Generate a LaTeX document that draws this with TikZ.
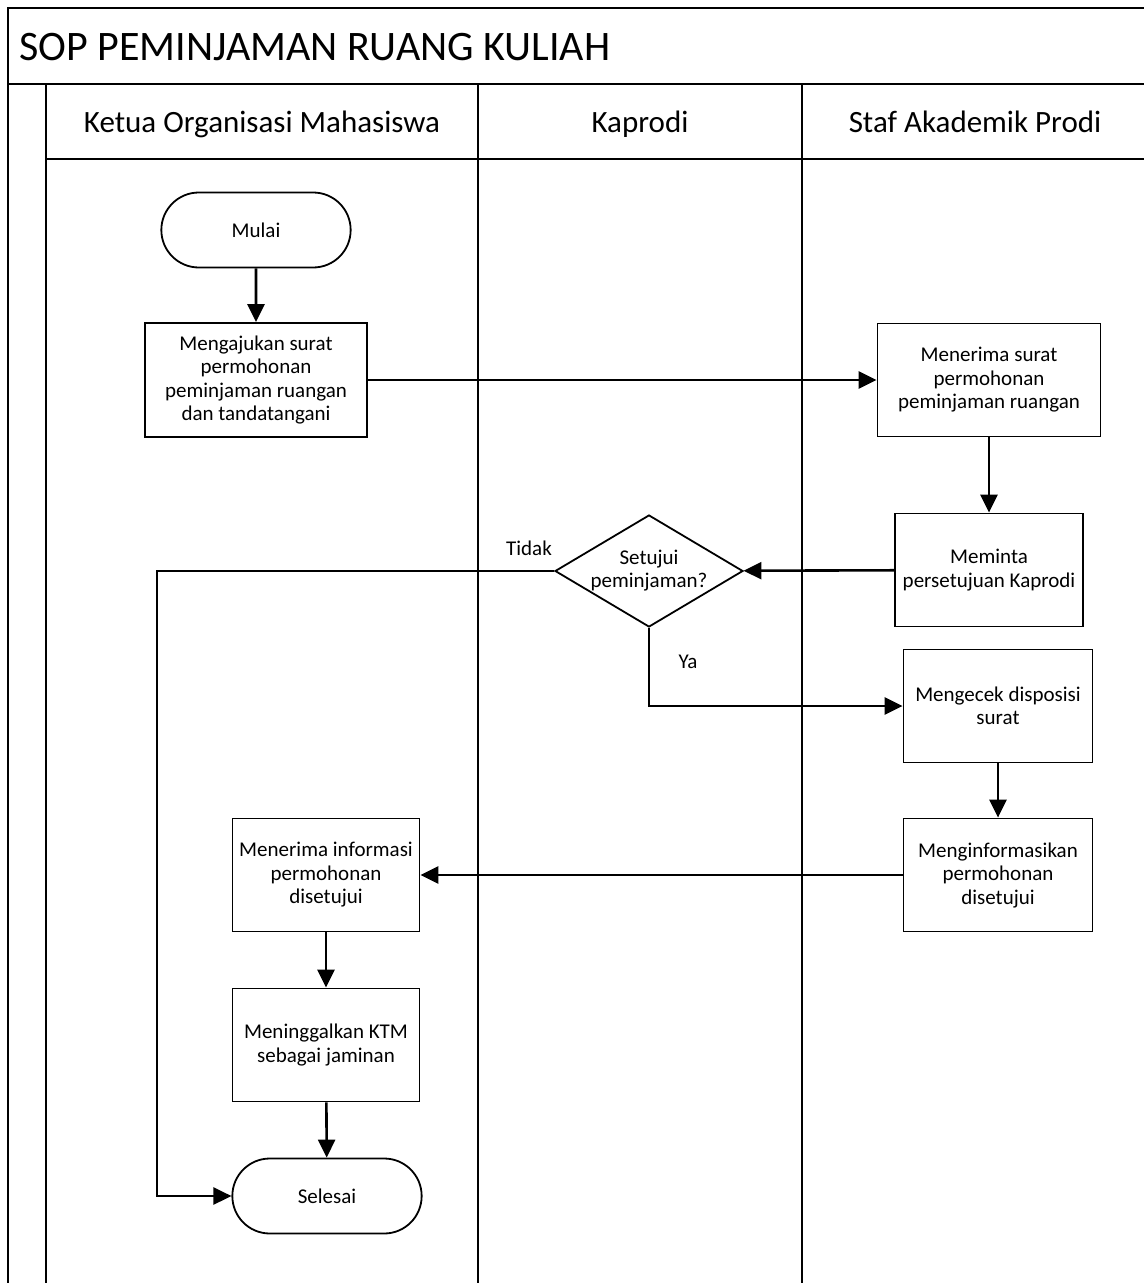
\documentclass[tikz,border=0pt]{standalone}
\usepackage{fontspec}
\setmainfont{Carlito}
\usetikzlibrary{shapes.geometric,shapes.misc,arrows.meta}
\begin{document}
\begin{tikzpicture}[x=1pt,y=-1pt,
  frame/.style={line width=2pt},
  procbox/.style={draw,line width=1.8pt,minimum width=189pt,minimum height=113pt,align=center,font=\fontsize{21}{23.5}\selectfont,inner sep=1pt},
  terminal/.style={draw,rounded rectangle,line width=1.8pt,minimum width=196pt,minimum height=75pt,font=\fontsize{21}{23}\selectfont},
  decision/.style={draw,diamond,aspect=1.68,line width=1.8pt,minimum width=188pt,minimum height=112pt,inner sep=0pt,align=center,font=\fontsize{21}{23}\selectfont},
  flow/.style={line width=2.6pt,-{Triangle[length=18pt,width=17pt]}},
  lane/.style={font=\fontsize{31}{34}\selectfont,anchor=base,inner sep=0pt},
  lbl/.style={font=\fontsize{21}{23}\selectfont}
]
\useasboundingbox (0,0) rectangle (1144,1283);
% frame
\draw[frame] (8,1283) -- (8,8) -- (1144,8);
\draw[frame] (8,84) -- (1144,84);
\draw[frame] (46,159) -- (1144,159);
\draw[frame] (46,84) -- (46,1283);
\draw[frame] (478,84) -- (478,1283);
\draw[frame] (802,84) -- (802,1283);
\node[anchor=base west,font=\fontsize{42}{46}\selectfont,inner sep=0pt] (title) at (19,60) {SOP PEMINJAMAN RUANG KULIAH};
\node[lane] (l1) at (262,132) {Ketua Organisasi Mahasiswa};
\node[lane] (l2) at (640,132) {Kaprodi};
\node[lane] (l3) at (975,132) {Staf Akademik Prodi};
% nodes
\node[terminal] (mulai) at (256,230) {Mulai};
\node[procbox,minimum width=222pt,minimum height=114pt] (ajukan) at (256,380) {Mengajukan surat\\permohonan\\peminjaman ruangan\\dan tandatangani};
\node[procbox,minimum width=223pt,minimum height=113pt] (terima) at (989,380) {Menerima surat\\permohonan\\peminjaman ruangan};
\node[procbox,minimum width=188pt] (minta) at (989,570) {Meminta\\persetujuan Kaprodi};
\node[decision] (d) at (649,571) {Setujui\\peminjaman?};
\node[procbox] (cek) at (998,706) {Mengecek disposisi\\surat};
\node[procbox] (info) at (998,875) {Menginformasikan\\permohonan\\disetujui};
\node[procbox,minimum width=187pt] (terinfo) at (326,875) {Menerima informasi\\permohonan\\disetujui};
\node[procbox,minimum width=187pt] (ktm) at (326,1045) {Meninggalkan KTM\\sebagai jaminan};
\node[terminal] (selesai) at (327,1196) {Selesai};
\coordinate (tk) at (157,571);
% connectors
\draw[flow] (mulai) -- (ajukan);
\draw[flow] (ajukan) -- (terima);
\draw[flow] (terima) -- (minta);
\draw[flow] (minta) -- (d);
\draw[flow] (d.west) -- (tk) |- (selesai.west);
\draw[flow] (d.south) |- (cek.west);
\draw[flow] (cek) -- (info);
\draw[flow] (info) -- (terinfo);
\draw[flow] (terinfo) -- (ktm);
\draw[flow] (ktm) -- (selesai);
\node[lbl] (tidak) at (529,548) {Tidak};
\node[lbl] (ya) at (688,662) {Ya};
\end{tikzpicture}
\end{document}
